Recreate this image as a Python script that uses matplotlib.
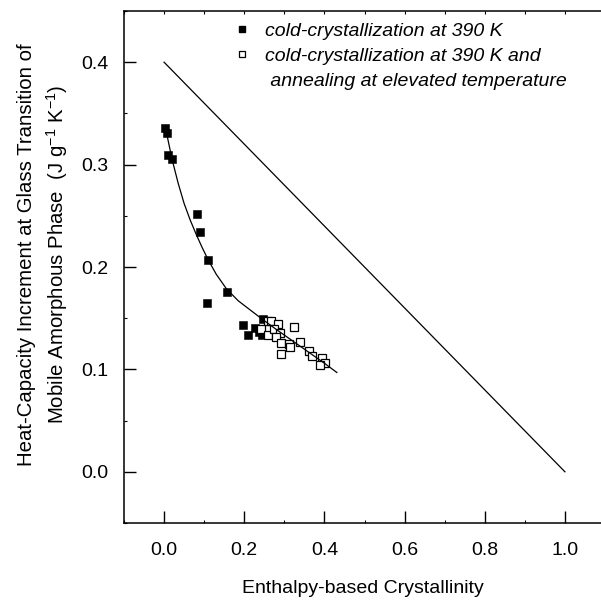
import matplotlib
matplotlib.use("Agg")
import matplotlib.pyplot as plt
from matplotlib.lines import Line2D
from matplotlib.ticker import MultipleLocator

plt.rcParams['font.family'] = ['Liberation Sans', 'DejaVu Sans']
plt.rcParams['mathtext.fontset'] = 'custom'
plt.rcParams['mathtext.rm'] = 'Liberation Sans'

# Data
filled_x = [0.002, 0.007, 0.009, 0.019, 0.081, 0.090, 0.109, 0.106, 0.158,
            0.198, 0.210, 0.227, 0.236, 0.244, 0.246]
filled_y = [0.336, 0.331, 0.309, 0.305, 0.252, 0.234, 0.207, 0.165, 0.176,
            0.143, 0.134, 0.140, 0.137, 0.134, 0.149]

open_x = [0.242, 0.258, 0.267, 0.285, 0.325, 0.258, 0.275, 0.289, 0.279,
          0.291, 0.312, 0.314, 0.339, 0.292, 0.361, 0.370, 0.395, 0.401, 0.389]
open_y = [0.139, 0.147, 0.147, 0.144, 0.141, 0.134, 0.139, 0.136, 0.132,
          0.126, 0.125, 0.122, 0.127, 0.115, 0.118, 0.113, 0.111, 0.106, 0.104]

fit_x = [0.005, 0.02, 0.035, 0.05, 0.065, 0.08, 0.095, 0.11, 0.13, 0.155,
         0.185, 0.215, 0.245, 0.28, 0.32, 0.36, 0.40, 0.431]
fit_y = [0.333, 0.305, 0.282, 0.262, 0.246, 0.232, 0.219, 0.207, 0.193, 0.179,
         0.167, 0.158, 0.149, 0.139, 0.128, 0.117, 0.106, 0.097]

limit_x = [0.0, 1.0]
limit_y = [0.4, 0.0]

x_ticks = [0.0, 0.2, 0.4, 0.6, 0.8, 1.0]
x_ticklabels = ["0.0", "0.2", "0.4", "0.6", "0.8", "1.0"]
y_ticks = [0.0, 0.1, 0.2, 0.3, 0.4]
y_ticklabels = ["0.0", "0.1", "0.2", "0.3", "0.4"]

legend_labels = ["cold-crystallization at 390 K",
                 "cold-crystallization at 390 K and",
                 " annealing at elevated temperature"]

xlabel = "Enthalpy-based Crystallinity"
ylabel = ("Heat-Capacity Increment at Glass Transition of\n"
          "Mobile Amorphous Phase  (J g$^{-1}$ K$^{-1}$)")

fig = plt.figure(figsize=(6.01, 6.0), dpi=100)
ax = fig.add_axes([124/601, 77/600, 1 - 124/601, (523-11)/600])

ax.plot(limit_x, limit_y, color='black', lw=0.9, zorder=4)
ax.plot(fit_x, fit_y, color='black', lw=0.9, zorder=4)
ax.plot(filled_x, filled_y, ls='none', marker='s', ms=5.8, mfc='black',
        mec='black', mew=0.4, zorder=2)
ax.plot(open_x, open_y, ls='none', marker='s', ms=5.4, mfc='white',
        mec='black', mew=0.9, zorder=3)

ax.set_xlim(-0.1, 1.09)
ax.set_ylim(-0.05, 0.45)

ax.set_xticks(x_ticks)
ax.set_xticklabels(x_ticklabels)
ax.set_yticks(y_ticks)
ax.set_yticklabels(y_ticklabels)
ax.xaxis.set_minor_locator(MultipleLocator(0.1))
ax.yaxis.set_minor_locator(MultipleLocator(0.05))

ax.spines['right'].set_visible(False)
for s in ['left', 'bottom', 'top']:
    ax.spines[s].set_linewidth(1.1)

ax.tick_params(axis='both', which='major', direction='in', length=8.5,
               width=1.0, color='black', labelsize=14,
               bottom=True, left=True, top=False, right=False)
ax.tick_params(axis='x', which='major', pad=14)
ax.tick_params(axis='y', which='major', pad=11)
ax.tick_params(axis='both', which='minor', direction='in', length=2.5,
               width=0.8, color='black', bottom=True, left=True,
               top=False, right=False)

# short ticks along the top edge
sec = ax.secondary_xaxis('top')
sec.xaxis.set_major_locator(MultipleLocator(0.1))
sec.tick_params(axis='x', which='major', direction='in', length=2.5,
                width=0.8, labeltop=False)
sec.spines['top'].set_visible(False)

ax.set_xlabel(xlabel, fontsize=14, labelpad=15)
ax.set_ylabel(ylabel, fontsize=14.7, linespacing=1.4)
ax.yaxis.set_label_coords(-0.114, 0.525)

handles = [
    Line2D([], [], ls='none', marker='s', ms=5, mfc='black', mec='black'),
    Line2D([], [], ls='none', marker='s', ms=5, mfc='white', mec='black', mew=0.9),
    Line2D([], [], ls='none', marker=None),
]
leg = ax.legend(handles, legend_labels, loc='upper left',
                bbox_to_anchor=(232/601, 1 - 22/600),
                bbox_transform=fig.transFigure, frameon=False,
                numpoints=1, handlelength=1.0, handletextpad=0.7,
                borderpad=0, borderaxespad=0, labelspacing=0.40,
                prop={'size': 14, 'style': 'italic'})

fig.savefig("out.png", dpi=100)
